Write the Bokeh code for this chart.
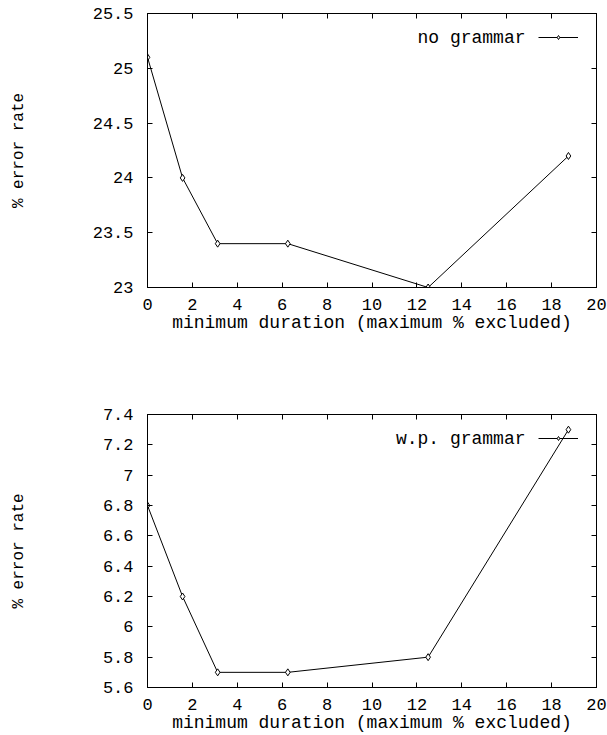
from bokeh.plotting import figure
from bokeh.layouts import column
from bokeh.models import (Range1d, FixedTicker, PrintfTickFormatter, LinearAxis,
                          Legend, LegendItem, Label, CustomJSTickFormatter)
from bokeh.embed import file_html
from bokeh.resources import INLINE

# ---- data ----
x_vals = [0, 1.5625, 3.125, 6.25, 12.5, 18.75]
no_grammar = [25.1, 24.0, 23.4, 23.4, 23.0, 24.2]
wp_grammar = [6.8, 6.2, 5.7, 5.7, 5.8, 7.3]
x_ticks = [0, 2, 4, 6, 8, 10, 12, 14, 16, 18, 20]
y_ticks_top = [23, 23.5, 24, 24.5, 25, 25.5]
y_ticks_bottom = [5.6, 5.8, 6.0, 6.2, 6.4, 6.6, 6.8, 7.0, 7.2, 7.4]
series_names = ["no grammar", "w.p. grammar"]
x_title = "minimum duration (maximum % excluded)"
y_title = "% error rate"

FONT = "'Liberation Mono', 'DejaVu Sans Mono', monospace"


def make_panel(ys, yticks, name, height, top_b, bottom_b, ylab_standoff):
    p = figure(width=607, height=height, output_backend="svg", toolbar_location=None,
               x_range=Range1d(x_ticks[0], x_ticks[-1]),
               y_range=Range1d(yticks[0], yticks[-1]),
               min_border_left=147, min_border_right=11,
               min_border_top=top_b, min_border_bottom=bottom_b)
    p.background_fill_color = "white"
    p.border_fill_color = "white"
    p.outline_line_color = "black"
    p.outline_line_width = 1
    p.grid.visible = False

    xa = p.xaxis[0]
    ya = p.yaxis[0]
    xa.ticker = FixedTicker(ticks=x_ticks)
    ya.ticker = FixedTicker(ticks=yticks)
    for ax in (xa, ya):
        ax.formatter = PrintfTickFormatter(format="%g")
        ax.major_tick_in = 5
        ax.major_tick_out = 0
        ax.minor_tick_line_color = None
        ax.axis_line_color = "black"
        ax.major_tick_line_color = "black"
        ax.major_label_text_font = FONT
        ax.major_label_text_font_size = "17px"
        ax.major_label_text_color = "black"
        ax.axis_label_text_font = FONT
        ax.axis_label_text_font_style = "normal"
        ax.axis_label_text_color = "black"
    xa.axis_label = x_title
    xa.axis_label_text_font_size = "18px"
    xa.major_label_standoff = 11
    xa.axis_label_standoff = 0
    ya.axis_label = y_title
    ya.axis_label_text_font_size = "16px"
    ya.major_label_standoff = 14
    ya.axis_label_standoff = ylab_standoff

    # mirrored tick marks on top and right
    for loc, tk in (("above", x_ticks), ("right", yticks)):
        m = LinearAxis(ticker=FixedTicker(ticks=tk),
                       formatter=CustomJSTickFormatter(code="return ''"),
                       major_tick_in=5, major_tick_out=0,
                       minor_tick_line_color=None,
                       major_label_standoff=0,
                       major_label_text_font_size="0px",
                       axis_line_color="black", major_tick_line_color="black")
        p.add_layout(m, loc)

    ln = p.line(x_vals, ys, line_color="black", line_width=1)
    sc = p.scatter(x_vals, ys, marker="diamond", size=7, fill_color="white",
                   line_color="black", line_width=1)

    frame_h = height - top_b - bottom_b
    leg = Legend(items=[LegendItem(label=" ", renderers=[ln, sc])],
                 location=(391, frame_h - 24.4 - 5),
                 glyph_width=40, glyph_height=10, label_height=10, label_width=0,
                 label_standoff=0, label_text_font_size="6px",
                 padding=0, margin=0, spacing=0,
                 border_line_color=None, background_fill_alpha=0)
    p.add_layout(leg)
    p.add_layout(Label(x=378, y=frame_h - 24.4, x_units="screen", y_units="screen",
                       text=name, text_align="right", text_baseline="middle",
                       text_font=FONT, text_font_size="18px", text_color="black"))
    return p


p1 = make_panel(no_grammar, y_ticks_top, series_names[0], 400, 13, 113, 62)
p2 = make_panel(wp_grammar, y_ticks_bottom, series_names[1], 335, 14, 48, 72)

layout = column(p1, p2, spacing=0)
open("out.html", "w").write(file_html(layout, INLINE))
